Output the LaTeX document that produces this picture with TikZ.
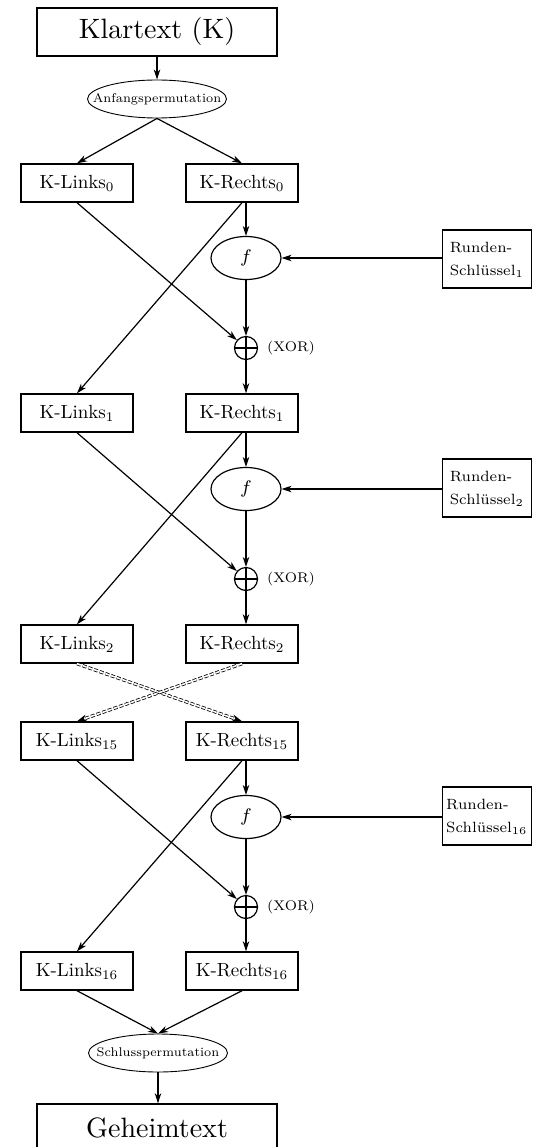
\documentclass[tikz,border=0pt]{standalone}
\usepackage{graphicx}
\usetikzlibrary{arrows.meta,shapes.geometric}

% labels set at a small design size, then enlarged
\newcommand\smalltext[2][2.0]{\scalebox{#1}{\fontsize{7}{8}\selectfont #2}}
\newcommand\keytext[1]{\scalebox{2.12}{\fontsize{7}{10.8}\selectfont
  \begin{tabular}{@{}l@{}}Runden-\\Schlüssel$_{#1}$\end{tabular}}}
\newcommand\rowtext[1]{\scalebox{1.9}{\fontsize{10}{12}\selectfont #1}}
\newcommand\bigtext[1]{\scalebox{2.8}{\fontsize{10}{12}\selectfont #1}}

\begin{document}
\begin{tikzpicture}[x=1pt,y=-1pt,
  bigbox/.style={draw, line width=1.4pt, minimum width=240, minimum height=48, inner sep=0pt},
  half/.style={draw, line width=1.4pt, minimum width=112, minimum height=38, inner sep=0pt},
  perm/.style={draw, ellipse, line width=0.9pt, minimum width=139, minimum height=38,
               inner xsep=-30pt, inner ysep=0pt},
  fbox/.style={draw, ellipse, line width=1.2pt, minimum width=70, minimum height=43, inner sep=0pt},
  xorc/.style={draw, circle, line width=1.2pt, minimum size=23, inner sep=0pt},
  keybox/.style={draw, line width=1.4pt, minimum width=89, minimum height=58, inner sep=0pt, anchor=east},
  lbl/.style={inner sep=0pt, anchor=west},
  arr/.style={line width=1.2pt, -{Stealth[length=10pt,width=6.5pt,inset=3pt]}},
  dbl/.style={double, dash pattern=on 4pt off 2pt, line width=0.8pt, double distance=1.6pt,
              -{Stealth[length=10pt,width=7pt,inset=3pt]}}]
\useasboundingbox (0,0) rectangle (533,1147);
\clip (0,0) rectangle (533,1147);

% input and initial permutation
\node[bigbox] (klar) at (157,32) {\bigtext{Klartext (K)}};
\node[perm] (anf) at (157,99) {\smalltext[1.8]{Anfangspermutation}};

% halves
\node[half] (L0)  at (77,183) {\rowtext{K-Links$_0$}};
\node[half] (R0)  at (242,183) {\rowtext{K-Rechts$_0$}};
\node[half] (L1)  at (77,413) {\rowtext{K-Links$_1$}};
\node[half] (R1)  at (242,413) {\rowtext{K-Rechts$_1$}};
\node[half] (L2)  at (77,644) {\rowtext{K-Links$_2$}};
\node[half] (R2)  at (242,644) {\rowtext{K-Rechts$_2$}};
\node[half] (L15) at (77,741) {\rowtext{K-Links$_{15}$}};
\node[half] (R15) at (242,741) {\rowtext{K-Rechts$_{15}$}};
\node[half] (L16) at (77,971) {\rowtext{K-Links$_{16}$}};
\node[half] (R16) at (242,971) {\rowtext{K-Rechts$_{16}$}};

% round functions, XOR and round keys
\node[fbox] (f1)  at (246,258) {\smalltext[2.6]{$f$}};
\node[xorc] (x1)  at (246,348) {};
\node[lbl]  (t1)  at (267,348) {\smalltext{(XOR)}};
\node[keybox] (k1) at (532,259) {\keytext{1}};

\node[fbox] (f2)  at (246,489) {\smalltext[2.6]{$f$}};
\node[xorc] (x2)  at (246,579) {};
\node[lbl]  (t2)  at (267,579) {\smalltext{(XOR)}};
\node[keybox] (k2) at (532,488) {\keytext{2}};

\node[fbox] (f16) at (246,817) {\smalltext[2.6]{$f$}};
\node[xorc] (x16) at (246,907) {};
\node[lbl]  (t16) at (267,907) {\smalltext{(XOR)}};
\node[keybox] (k16) at (532,816) {\keytext{16}};

% final permutation and output
\node[perm] (schl) at (158,1053) {\smalltext[1.8]{Schlusspermutation}};
\node[bigbox] (geh) at (157,1128) {\bigtext{Geheimtext}};

% connectors
\draw[arr] (klar.south) -- (anf.north);
\draw[arr] (anf.south) -- (L0.north);
\draw[arr] (anf.south) -- (R0.north);

\foreach \a/\b/\c/\d/\f/\x/\k in {L0/R0/L1/R1/f1/x1/k1, L1/R1/L2/R2/f2/x2/k2, L15/R15/L16/R16/f16/x16/k16}{
  \draw[line width=1.2pt] (\x.north) -- (\x.south) (\x.west) -- (\x.east);
  \draw[arr] (\b.south -| \f.north) -- (\f.north);
  \draw[arr] (\k.west |- \f.east) -- (\f.east);
  \draw[arr] (\f.south) -- (\x.north);
  \draw[arr] (\a.south) -- (\x);
  \draw[arr] (\b.south) -- (\c.north);
  \draw[arr] (\x.south) -- (\x.south |- \d.north);
}

\draw[dbl] (L2.south) -- (R15.north);
\draw[dbl] (R2.south) -- (L15.north);

\draw[arr] (L16.south) -- (schl.north);
\draw[arr] (R16.south) -- (schl.north);
\draw[arr] (schl.south) -- (schl.south |- geh.north);
\end{tikzpicture}
\end{document}
